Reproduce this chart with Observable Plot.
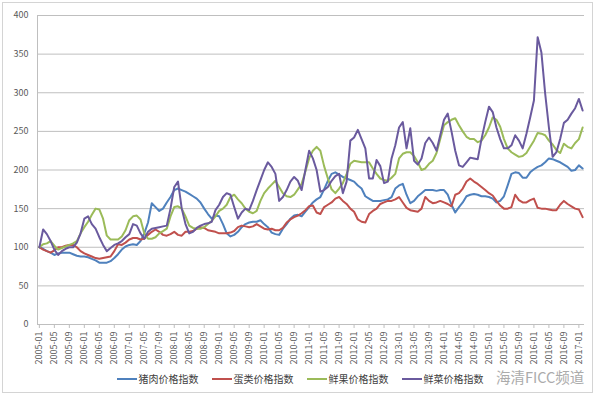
<!DOCTYPE html>
<html>
<head>
<meta charset="utf-8">
<script src="https://cdn.jsdelivr.net/npm/d3@7"></script>
<script src="https://cdn.jsdelivr.net/npm/@observablehq/plot@0.6"></script>
<style>
  body { margin: 0; background: #fff; }
  #wrap { position: relative; width: 600px; height: 396px; overflow: hidden; font-family: "Noto Sans CJK SC", sans-serif; background:#fff; }
  #border { position: absolute; left: 2px; top: 2px; width: 591px; height: 391px; border: 1px solid #d4d4d4; box-sizing: border-box; pointer-events: none; }
  #chart { position: absolute; left: 0; top: 0; }
  #legend { position: absolute; left: 0; width: 600px; top: 371px; display: flex; justify-content: center; gap: 13px; font-size: 10px; color: #404040; }
  .item { display: flex; align-items: center; gap: 2px; white-space: nowrap; }
  .swatch { width: 20px; height: 2px; }
  #wm { position: absolute; left: 496px; top: 368px; font-size: 14.5px; line-height: 18px; color: #ababab; font-family: "Noto Sans CJK SC", sans-serif; white-space: nowrap; }
</style>
</head>
<body>
<div id="wrap">
  <div id="chart"></div>
  <div id="legend"></div>
  <div id="wm">海清FICC频道</div>
  <div id="border"></div>
</div>
<script>
// ---- categories ----
const startYear = 2005, endYear = 2017, endMonth = 2;
const months = [];
for (let y = startYear; y <= endYear; y++) {
  for (let m = 1; m <= 12; m++) {
    if (y === endYear && m > endMonth) break;
    months.push(`${y}-${String(m).padStart(2, "0")}`);
  }
}

// ---- tick labels ----
const xTickLabels = [
  "2005-01","2005-05","2005-09","2006-01","2006-05","2006-09","2007-01","2007-05","2007-09",
  "2008-01","2008-05","2008-09","2009-01","2009-05","2009-09","2010-01","2010-05","2010-09",
  "2011-01","2011-05","2011-09","2012-01","2012-05","2012-09","2013-01","2013-05","2013-09",
  "2014-01","2014-05","2014-09","2015-01","2015-05","2015-09","2016-01","2016-05","2016-09","2017-01"
];
const yTicks = [0, 50, 100, 150, 200, 250, 300, 350, 400];

// ---- series ----
const seriesNames = ["猪肉价格指数", "蛋类价格指数", "鲜果价格指数", "鲜菜价格指数"];
const seriesColors = ["#4f81bd", "#c0504d", "#9bbb59", "#6a5a9e"];

const pork = [
  100, 98, 95, 93, 90, 92, 93, 93, 93, 91, 89, 88,
  88, 87, 85, 83, 80, 80, 80, 82, 86, 91, 97, 101,
  103, 104, 103, 108, 118, 132, 157, 152, 147, 150, 158, 165,
  174, 176, 174, 172, 169, 166, 163, 158, 150, 143, 137, 141,
  140, 130, 118, 114, 116, 120, 126, 130, 132, 133, 133, 135,
  130, 126, 119, 117, 116, 124, 130, 137, 141, 142, 140, 146,
  152, 158, 162, 165, 175, 186, 195, 197, 194, 191, 189, 187,
  185, 180, 176, 166, 163, 160, 160, 160, 161, 162, 165, 176,
  180, 182, 168, 157, 160, 166, 170, 174, 174, 174, 173, 174,
  174, 168, 155, 145, 152, 158, 166, 168, 169, 168, 166, 166,
  165, 163, 158, 160, 166, 180, 195, 197, 196, 190, 190, 197,
  201, 204, 206, 210, 215, 214, 212, 210, 207, 204, 199, 200,
  206, 202
];
const eggs = [
  100, 97, 95, 93, 96, 100, 100, 102, 103, 103, 100, 95,
  92, 90, 88, 86, 85, 86, 87, 88, 95, 104, 103, 106,
  110, 112, 112, 110, 111, 116, 120, 123, 120, 116, 115, 117,
  120, 116, 115, 120, 120, 121, 124, 126, 125, 122, 121, 120,
  118, 118, 118, 119, 121, 126, 128, 127, 126, 127, 130, 127,
  124, 123, 124, 122, 122, 125, 132, 136, 139, 141, 144, 148,
  153, 154, 145, 143, 152, 155, 158, 163, 165, 160, 156, 150,
  146, 136, 133, 132, 143, 147, 150, 156, 158, 160, 160, 162,
  165, 158, 151, 148, 147, 146, 150, 165, 160, 157, 158, 160,
  158, 156, 153, 168, 170, 176, 185, 189, 185, 182, 178, 174,
  170, 167, 160, 154, 150, 150, 152, 168, 161, 158, 158, 161,
  163, 151, 150, 150, 149, 148, 148, 155, 160, 156, 153, 150,
  149, 139
];
const fruit = [
  100, 104, 105, 108, 102, 97, 99, 101, 103, 105, 108, 118,
  126, 133, 142, 150, 149, 137, 115, 110, 110, 110, 114, 122,
  135, 140, 141, 136, 118, 111, 111, 113, 118, 121, 124, 140,
  152, 153, 150, 140, 128, 125, 124, 124, 126, 130, 134, 140,
  147, 150, 155, 165, 168, 162, 157, 150, 146, 144, 147, 160,
  170, 176, 181, 186, 178, 170, 166, 165, 168, 175, 182, 198,
  215, 225, 230, 225, 205, 189, 175, 170, 176, 183, 195, 208,
  212, 211, 210, 210, 210, 202, 195, 189, 187, 186, 190, 195,
  215, 221, 223, 223, 218, 210, 200, 202, 208, 212, 222, 240,
  258, 262, 265, 267, 258, 250, 243, 240, 240, 236, 238, 245,
  255, 268, 265, 256, 240, 228, 223, 220, 217, 218, 222, 230,
  238, 248, 247, 245, 238, 233, 226, 222, 234, 230, 228, 235,
  240, 255
];
const vegetables = [
  100, 123, 117, 108, 97, 90, 95, 98, 100, 100, 106, 118,
  137, 140, 130, 124, 113, 103, 95, 99, 103, 105, 108, 113,
  117, 130, 128, 118, 111, 120, 124, 125, 126, 127, 128, 150,
  178, 185, 150, 130, 118, 120, 125, 128, 130, 131, 133, 148,
  155, 165, 170, 168, 152, 137, 145, 150, 148, 160, 174, 187,
  200, 210, 204, 195, 160, 165, 174, 185, 191, 186, 174, 200,
  225, 215, 200, 172, 174, 178, 186, 192, 195, 170, 185, 238,
  242, 252, 240, 228, 189, 189, 213, 205, 183, 185, 215, 232,
  255, 262, 228, 254, 212, 207, 215, 235, 242, 235, 225, 245,
  265, 273, 250, 225, 206, 204, 210, 216, 215, 214, 240, 262,
  282, 275, 255, 240, 228, 228, 232, 245, 238, 228, 247, 268,
  290, 372, 352, 299, 255, 217, 223, 240, 261, 265, 273, 280,
  292, 277
];

const seriesValues = [pork, eggs, fruit, vegetables];
const rows = [];
seriesValues.forEach((vals, si) => {
  vals.forEach((v, i) => rows.push({ month: months[i], value: v, series: seriesNames[si] }));
});

const chart = Plot.plot({
  width: 600,
  height: 372,
  marginTop: 15,
  marginBottom: 48,
  marginLeft: 37,
  marginRight: 16,
  style: { fontFamily: '"Noto Sans CJK SC", sans-serif', fontSize: "9px", color: "#595959", background: "transparent", overflow: "visible" },
  x: { type: "point", domain: months, padding: 0.5 },
  y: { domain: [0, 400] },
  color: { domain: seriesNames, range: seriesColors },
  marks: [
    Plot.gridY(yTicks, { stroke: "#bfbfbf", strokeOpacity: 1, strokeWidth: 1 }),
    Plot.frame({ anchor: "left", stroke: "#bfbfbf" }),
    Plot.axisY({ ticks: yTicks, tickSize: 0, tickPadding: 9, label: null }),
    Plot.axisX({ ticks: xTickLabels, tickRotate: -90, tickSize: 4, tickPadding: 3, label: null, stroke: "#bfbfbf", fill: "#595959" }),
    Plot.lineY(rows, { x: "month", y: "value", z: "series", stroke: "series", strokeWidth: 2 })
  ]
});
document.getElementById("chart").appendChild(chart);

const legend = document.getElementById("legend");
seriesNames.forEach((name, i) => {
  const item = document.createElement("div");
  item.className = "item";
  const sw = document.createElement("span");
  sw.className = "swatch";
  sw.style.background = seriesColors[i];
  const tx = document.createElement("span");
  tx.textContent = name;
  item.appendChild(sw);
  item.appendChild(tx);
  legend.appendChild(item);
});
</script>
</body>
</html>
